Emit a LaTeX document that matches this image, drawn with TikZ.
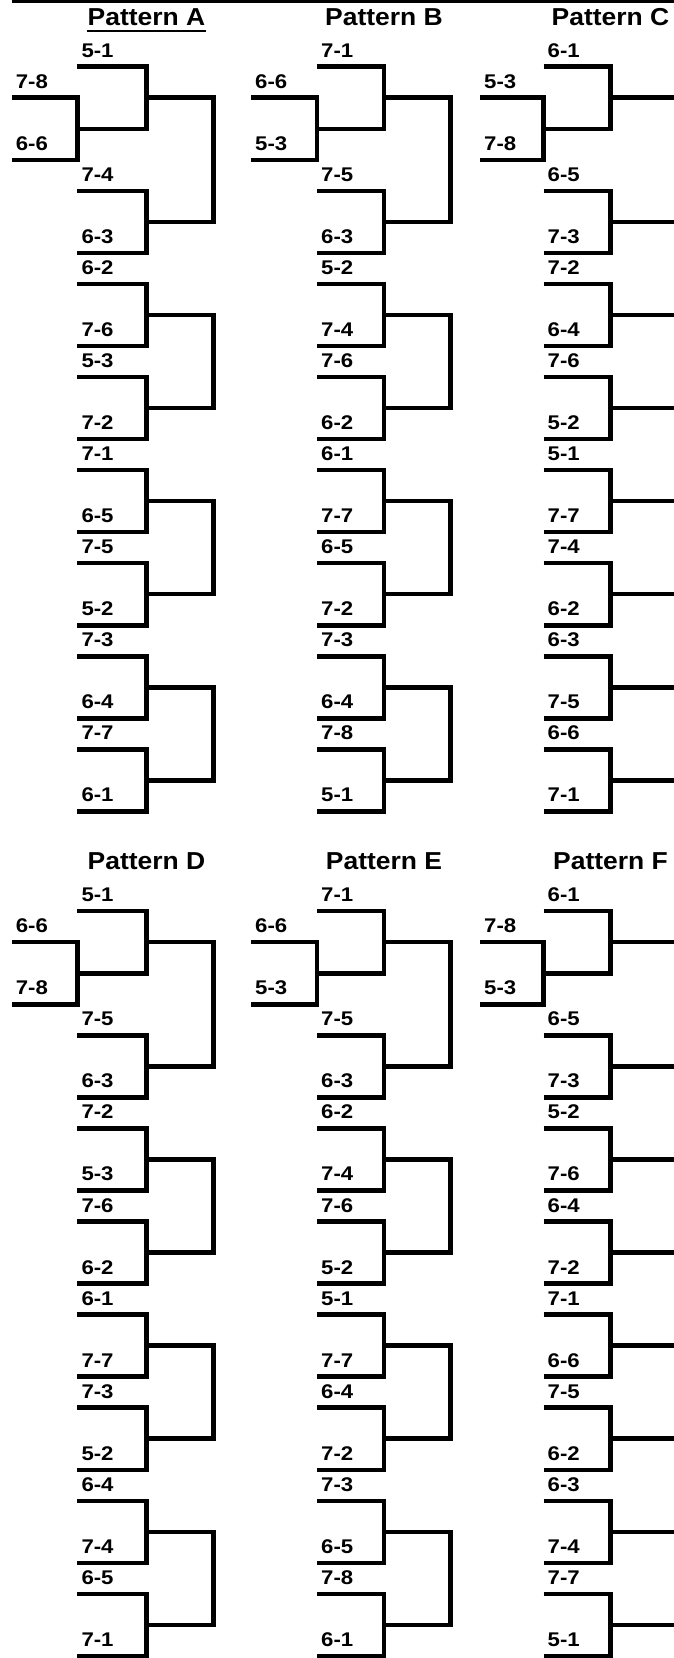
\documentclass[tikz,border=0pt]{standalone}
\usepackage{fontspec}
\setmainfont[FakeStretch=1.08]{Liberation Sans}
\newfontfamily\labfont[FakeStretch=1.12]{Liberation Sans}
\tikzset{
  brk/.style={line width=4.5pt, line join=miter},
  lab/.style={anchor=base west, inner sep=0pt, font=\labfont\fontsize{19.8}{20}\selectfont\bfseries},
  ttl/.style={anchor=base, inner sep=0pt, font=\fontsize{24.5}{26}\selectfont\bfseries},
}
% #1 id, #2 xp, #3 xm, #4 x1, #5 x2, #6 Y0, #7 title, #8 labels k/text
\newcommand\bracketpat[8]{%
  \foreach \k in {0,...,24}{%
    \pgfmathsetmacro\yy{#6+\k*31.03}%
    \coordinate (#1-a\k) at (#2,\yy);
    \coordinate (#1-b\k) at (#3,\yy);
    \coordinate (#1-c\k) at (#4,\yy);
    \coordinate (#1-d\k) at (#5,\yy);
  }
  \node[ttl] (#1-t) at (#4,#6-41.5) {#7};
  \draw[brk] (#1-a1) -- (#1-b1) -- (#1-b3) -- (#1-a3);
  \foreach \a/\b in {0/2,4/6,7/9,10/12,13/15,16/18,19/21,22/24}
    \draw[brk] (#1-b\a) -- (#1-c\a) -- (#1-c\b) -- (#1-b\b);
  \foreach \a/\b in {1/5,8/11,14/17,20/23}
    \draw[brk] (#1-c\a) -- (#1-d\a) -- (#1-d\b) -- (#1-c\b);
  \foreach \k/\t in {#8}{%
    \ifnum\k=1 \def\xx{#2}\else\ifnum\k=3 \def\xx{#2}\else\def\xx{#3}\fi\fi
    \node[lab] (#1-l\k) at (\xx+4,#6+\k*31.03-9.5) {\t};
  }
}
\begin{document}
\begin{tikzpicture}[x=1pt,y=-1pt]
\useasboundingbox (0,0) rectangle (674,1658);
\clip (0,0) rectangle (674,1658);
\fill[white] (0,0) rectangle (674,1658);
\coordinate (topL) at (11.7,1.25);
\coordinate (topR) at (674,1.25);
\draw[line width=2.5pt] (topL) -- (topR);
\bracketpat{A}{11.7}{77.3}{146.5}{213.3}{66.7}{Pattern A}{0/5-1,1/7-8,3/6-6,4/7-4,6/6-3,7/6-2,9/7-6,10/5-3,12/7-2,13/7-1,15/6-5,16/7-5,18/5-2,19/7-3,21/6-4,22/7-7,24/6-1}
\bracketpat{B}{251}{317}{384}{450.5}{66.7}{Pattern B}{0/7-1,1/6-6,3/5-3,4/7-5,6/6-3,7/5-2,9/7-4,10/7-6,12/6-2,13/6-1,15/7-7,16/6-5,18/7-2,19/7-3,21/6-4,22/7-8,24/5-1}
\bracketpat{C}{480}{543.5}{610.5}{677}{66.7}{Pattern C}{0/6-1,1/5-3,3/7-8,4/6-5,6/7-3,7/7-2,9/6-4,10/7-6,12/5-2,13/5-1,15/7-7,16/7-4,18/6-2,19/6-3,21/7-5,22/6-6,24/7-1}
\bracketpat{D}{11.7}{77.3}{146.5}{213.3}{911.2}{Pattern D}{0/5-1,1/6-6,3/7-8,4/7-5,6/6-3,7/7-2,9/5-3,10/7-6,12/6-2,13/6-1,15/7-7,16/7-3,18/5-2,19/6-4,21/7-4,22/6-5,24/7-1}
\bracketpat{E}{251}{317}{384}{450.5}{911.2}{Pattern E}{0/7-1,1/6-6,3/5-3,4/7-5,6/6-3,7/6-2,9/7-4,10/7-6,12/5-2,13/5-1,15/7-7,16/6-4,18/7-2,19/7-3,21/6-5,22/7-8,24/6-1}
\bracketpat{F}{480}{543.5}{610.5}{677}{911.2}{Pattern F}{0/6-1,1/7-8,3/5-3,4/6-5,6/7-3,7/5-2,9/7-6,10/6-4,12/7-2,13/7-1,15/6-6,16/7-5,18/6-2,19/6-3,21/7-4,22/7-7,24/5-1}
\draw[line width=2.3pt] ([yshift=-6pt]A-t.base west) -- ([yshift=-6pt]A-t.base east);
\end{tikzpicture}
\end{document}
